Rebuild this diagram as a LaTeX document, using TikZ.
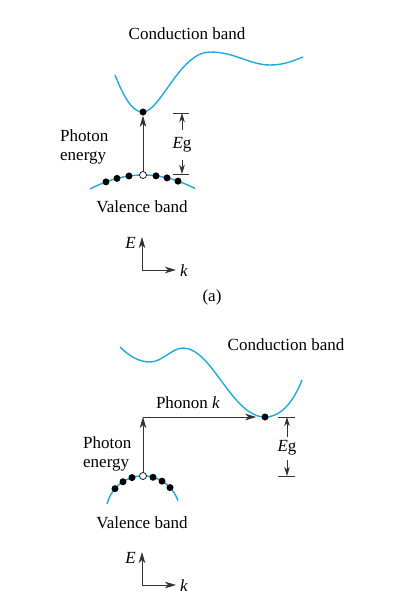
\documentclass[tikz,border=0pt]{standalone}
\usepackage{fontspec}
\setmainfont{Liberation Serif}
\usetikzlibrary{arrows.meta}
\definecolor{bandblue}{RGB}{35,168,220}

\begin{document}
\begin{tikzpicture}[x=1pt, y=-1pt,
  band/.style={draw=bandblue, line width=1.4pt},
  el/.style={circle, fill=black, inner sep=0pt, minimum size=7pt},
  hole/.style={circle, draw=black, fill=white, inner sep=0pt, minimum size=7pt, line width=0.7pt},
  jump/.style={draw=black!80, line width=0.9pt, -{Stealth[length=11pt,width=6.5pt,inset=3pt]}},
  gap/.style={draw=black!80, line width=0.9pt, -{Stealth[length=9pt,width=5.5pt,inset=2.5pt]}},
  tick/.style={draw=black!80, line width=0.9pt},
  lbl/.style={font=\fontsize{17}{19}\selectfont, inner sep=0pt}]

\useasboundingbox (0,0) rectangle (414,598);

% (a) direct gap
\draw[band] (115,75) .. controls (125,100) and (133,112) .. (143,112)
  .. controls (160,112) and (180,52) .. (210,52)
  .. controls (235,52) and (250,65) .. (270,65)
  .. controls (285,65) and (295,60) .. (303,57);
\draw[band] plot[domain=90:195, samples=40] (\x, {175+0.005*(\x-143)^2});

\node[el] (ca) at (143,112) {};
\node[hole] (ha) at (143,175) {};
\foreach \i/\xx in {1/106,2/117,3/129,4/156,5/167,6/178}
  \node[el] (va\i) at (\xx, {175+0.005*(\xx-143)^2}) {};
\draw[jump] (ha) -- (ca);

\coordinate (ta1) at (173,113);
\coordinate (ta2) at (189,113);
\coordinate (ba1) at (173,174);
\coordinate (ba2) at (189,174);
\coordinate (ua) at (182,130);
\coordinate (da) at (182,160);
\draw[tick] (ta1) -- (ta2);
\draw[tick] (ba1) -- (ba2);
\draw[gap] (ua) -- (182,113);
\draw[gap] (da) -- (182,174);

\node[lbl] (cba) at (187,34) {Conduction band};
\node[lbl, align=left, anchor=west] (pea) at (60,147) {Photon\\energy};
\node[lbl] (vba) at (142,207) {Valence band};
\node[lbl] (ega) at (182,145) {\textit{E}g};

\coordinate (oa) at (142,270);
\coordinate (ya) at (142,237);
\coordinate (xa) at (176,270);
\draw[jump] (oa) -- (ya);
\draw[jump] (oa) -- (xa);
\node[lbl, anchor=east] (ea) at (136,243) {\textit{E}};
\node[lbl, anchor=west] (ka) at (180,271) {\textit{k}};
\node[lbl] (capa) at (212,297) {(a)};

% (b) indirect gap
\draw[band] (120,347) .. controls (130,357) and (140,362) .. (150,362)
  .. controls (162,362) and (172,348) .. (183,348)
  .. controls (212,348) and (232,417) .. (265,417)
  .. controls (283,417) and (295,398) .. (302,380);
\draw[band] plot[domain=107:178, samples=40] (\x, {513-sqrt(1376-(\x-143)^2)});

\node[el] (cb) at (265,417) {};
\node[hole] (hb) at (143,476) {};
\foreach \i/\xx in {1/115,2/123,3/132,4/153,5/162,6/170}
  \node[el] (vb\i) at (\xx, {513-sqrt(1376-(\xx-143)^2)}) {};
\coordinate (kb) at (143,417);
\draw[jump] (hb) -- (kb);
\draw[jump, shorten >=5pt] (kb) -- (cb);

\coordinate (tb1) at (278,417);
\coordinate (tb2) at (295,417);
\coordinate (bb1) at (278,476);
\coordinate (bb2) at (295,476);
\coordinate (ub) at (287,437);
\coordinate (db) at (287,460);
\draw[tick] (tb1) -- (tb2);
\draw[tick] (bb1) -- (bb2);
\draw[gap] (ub) -- (287,417);
\draw[gap] (db) -- (287,476);

\node[lbl] (cbb) at (286,345) {Conduction band};
\node[lbl] (phb) at (188,403) {Phonon \textit{k}};
\node[lbl, align=left, anchor=west] (peb) at (83,454) {Photon\\energy};
\node[lbl] (vbb) at (142,523) {Valence band};
\node[lbl] (egb) at (287,448) {\textit{E}g};

\coordinate (ob) at (142,585);
\coordinate (yb) at (142,552);
\coordinate (xb) at (176,585);
\draw[jump] (ob) -- (yb);
\draw[jump] (ob) -- (xb);
\node[lbl, anchor=east] (eb) at (136,558) {\textit{E}};
\node[lbl, anchor=west] (kbl) at (180,586) {\textit{k}};
\end{tikzpicture}
\end{document}
